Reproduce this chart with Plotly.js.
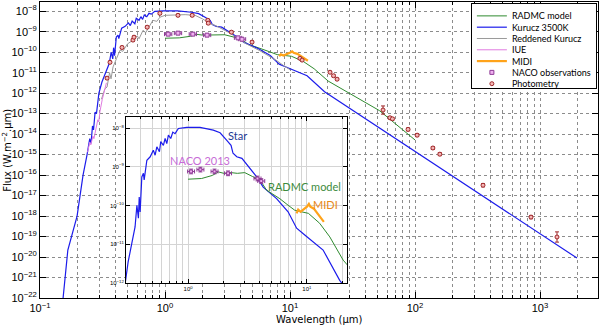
<!DOCTYPE html>
<html>
<head>
<meta charset="utf-8">
<script src="https://cdn.plot.ly/plotly-3.0.1.min.js"></script>
<style>
html, body { margin: 0; padding: 0; background: #fff; }
#chart { width: 600px; height: 326px; }
</style>
</head>
<body>
<div id="chart"></div>
<script>
// wavelengths in micron, fluxes in W.m-2.micron

// Kurucz 3500K photosphere
var kuruczWave = [0.153, 0.167, 0.198, 0.221, 0.238, 0.25, 0.256, 0.263, 0.268, 0.276, 0.283, 0.296,
  0.313, 0.336, 0.358, 0.371, 0.382, 0.388, 0.395, 0.408, 0.421, 0.427, 0.45, 0.48, 0.51, 0.528,
  0.546, 0.574, 0.589, 0.62, 0.641, 0.662, 0.683, 0.715, 0.744, 0.777, 0.829, 0.975, 1.26, 1.63,
  1.86, 2.11, 2.3, 2.39, 2.57, 2.84, 3.32, 3.78, 4.29, 5.56, 6.95, 8.2, 9.6, 13.7, 18.9, 91, 1977];
var kuruczFlux = [1e-22, 2.2e-20, 1e-18, 1e-16, 1e-15, 6e-15, 3.5e-15, 2.5e-14, 1.6e-14, 1.2e-13, 1e-13, 1e-12,
  3.5e-12, 1.05e-11, 2.8e-11, 1.02e-10, 4.7e-11, 1.66e-10, 6.8e-11, 5.5e-10, 6.8e-10, 4.6e-10, 1.48e-9, 1.82e-9, 2.7e-9, 2.0e-9,
  3.3e-9, 2.45e-9, 4.5e-9, 3.6e-9, 5.4e-9, 4.0e-9, 6.6e-9, 5.4e-9, 7.9e-9, 7.2e-9, 9.8e-9, 1.05e-8, 1.05e-8, 8.9e-9,
  7.6e-9, 4.9e-9, 3.6e-9, 2.24e-9, 1.82e-9, 1.66e-9, 9.3e-10, 5.5e-10, 3.0e-10, 1.51e-10, 6.9e-11, 2.6e-11, 1.74e-11, 7.1e-12, 1.17e-12, 2.1e-15, 8.9e-21];

// reddened Kurucz
var reddenedWave = [0.31, 0.33, 0.344, 0.36, 0.37, 0.384, 0.41, 0.437, 0.46, 0.5, 0.554, 0.6, 0.62, 0.667, 0.7,
  0.75, 0.8, 0.86, 0.91, 1.0, 1.2, 1.45, 1.74, 2.0, 2.3, 2.6, 3.31, 4.5, 5.75, 7.87, 8.9, 10];
var reddenedFlux = [5e-13, 1.6e-12, 2e-12, 1e-11, 5e-12, 1.9e-11, 5e-11, 1.26e-10, 1.1e-10, 2.5e-10, 3.9e-10, 6.3e-10, 4.5e-10, 1.17e-9, 8.9e-10,
  2e-9, 3.6e-9, 3.2e-9, 5.1e-9, 6.3e-9, 6.8e-9, 6.8e-9, 6.3e-9, 4.2e-9, 2.5e-9, 1.86e-9, 8.5e-10, 2.5e-10, 1.17e-10, 3.8e-11, 2.2e-11, 1.4e-11];

// IUE spectrum
var iueWave = [0.24, 0.25, 0.255, 0.265, 0.27, 0.28, 0.29, 0.295, 0.302, 0.315, 0.33, 0.34];
var iueFlux = [1.3e-15, 4e-15, 3e-15, 8e-15, 6e-15, 2e-14, 5e-14, 4e-14, 1.3e-13, 5e-13, 1.6e-12, 3.2e-12];

// RADMC model
var radmcWave = [1.0, 1.3, 1.6, 1.8, 2.0, 2.3, 2.6, 3.0, 3.5, 4.03, 4.58, 5.93, 6.95, 7.9, 9.0, 10.3, 12.8, 15.6, 20.2, 52, 100];
var radmcFlux = [4.8e-10, 5.0e-10, 6.0e-10, 7.4e-10, 6.8e-10, 7.1e-10, 6.8e-10, 7.1e-10, 5.6e-10, 4.6e-10, 2.5e-10, 1.5e-10, 1.02e-10, 7.6e-11, 6.9e-11, 6.3e-11, 3.5e-11, 1.55e-11, 3.9e-12, 1.4e-13, 5.2e-15];

// MIDI spectrum
var midiWave = [8.19, 8.45, 8.85, 9.43, 10.07, 10.4, 10.7, 11.45, 12.2, 13.0, 13.9];
var midiFlux = [6.3e-11, 7.9e-11, 6.9e-11, 7.9e-11, 9.5e-11, 1.1e-10, 9.3e-11, 8.3e-11, 6.5e-11, 4.9e-11, 3.8e-11];

// NACO 2013 observations
var nacoWave = [1.06, 1.27, 1.67, 2.17, 3.84, 4.13];
var nacoFlux = [7.6e-10, 8.5e-10, 7.6e-10, 6.8e-10, 5.0e-10, 4.3e-10];

// photometry (error in dex)
var photWave = [0.344, 0.363, 0.453, 0.554, 0.565, 0.72, 0.91, 1.27, 1.65, 2.2, 2.22, 3.4, 4.97,
  12.0, 12.5, 20.9, 22.3, 23.8, 55.5, 63, 66, 88, 104, 139, 158, 350, 847, 1368];
var photFlux = [5.4e-12, 3.2e-11, 1.7e-10, 3.9e-10, 5.4e-10, 1.66e-9, 7.9e-9, 6.3e-9, 6.3e-9, 3.6e-9, 2.6e-9, 9.5e-10, 3.1e-10,
  5e-11, 4.1e-11, 1.05e-11, 7.1e-12, 4.8e-12, 1.5e-13, 6.3e-14, 5.6e-14, 1.7e-14, 8.9e-15, 2.1e-15, 1.05e-15, 3.2e-17, 8.9e-19, 9.5e-20];
var photErr = [0.06, 0.06, 0.06, 0.06, 0.06, 0.06, 0.06, 0.06, 0.06, 0.06, 0.06, 0.06, 0.06,
  0.05, 0.05, 0.05, 0.05, 0.05, 0.2, 0.06, 0.06, 0.07, 0.07, 0.07, 0.07, 0.08, 0.08, 0.25];

var mainXTicks = [0.1, 1, 10, 100, 1000];
var mainXTickText = ['10<sup>−1</sup>', '10<sup>0</sup>', '10<sup>1</sup>', '10<sup>2</sup>', '10<sup>3</sup>'];
var mainXMinor = [0.2, 0.3, 0.4, 0.5, 0.6, 0.7, 0.8, 0.9, 2, 3, 4, 5, 6, 7, 8, 9, 20, 30, 40, 50, 60, 70, 80, 90,
  200, 300, 400, 500, 600, 700, 800, 900, 2000, 3000];
var mainYExp = [-22, -21, -20, -19, -18, -17, -16, -15, -14, -13, -12, -11, -10, -9, -8];
var insetXTicks = [1, 10];
var insetXTickText = ['10<sup>0</sup>', '10<sup>1</sup>'];
var insetXMinor = [0.3, 0.4, 0.5, 0.6, 0.7, 0.8, 0.9, 2, 3, 4, 5, 6, 7, 8, 9, 20];
var insetYExp = [-12, -11, -10, -9, -8];

function pw(e) { return '10<sup>' + (e < 0 ? '−' + (-e) : e) + '</sup>'; }

var photPlus = photFlux.map(function (f, i) { return f * (Math.pow(10, photErr[i]) - 1); });
var photMinus = photFlux.map(function (f, i) { return f * (1 - Math.pow(10, -photErr[i])); });
var nacoPlus = nacoFlux.map(function (f) { return f * 0.15; });
var nacoMinus = nacoFlux.map(function (f) { return f * 0.13; });
var nacoXPlus = nacoWave.map(function (w) { return w * 0.07; });
var nacoXMinus = nacoWave.map(function (w) { return w * 0.065; });

var cGreen = '#2f8a2f', cBlue = '#1c1ceb', cGrey = '#9a9a9a', cIue = '#e07be0', cMidi = '#ffa31a';
var cNaco = '#8e3a96', cPhot = '#a0282a';

var traces = [
  { x: radmcWave, y: radmcFlux, mode: 'lines', name: 'RADMC model', line: { color: cGreen, width: 1 } },
  { x: kuruczWave, y: kuruczFlux, mode: 'lines', name: 'Kurucz 3500K', line: { color: cBlue, width: 1.2 } },
  { x: reddenedWave, y: reddenedFlux, mode: 'lines', name: 'Reddened Kurucz', line: { color: cGrey, width: 1 } },
  { x: iueWave, y: iueFlux, mode: 'lines', name: 'IUE', line: { color: cIue, width: 1 } },
  { x: midiWave, y: midiFlux, mode: 'lines', name: 'MIDI', line: { color: cMidi, width: 2.2 } },
  { x: nacoWave, y: nacoFlux, mode: 'markers', name: 'NACO observations',
    marker: { symbol: 'square', size: 4, color: '#f0b0f0', line: { color: cNaco, width: 1 } },
    error_y: { type: 'data', symmetric: false, array: nacoPlus, arrayminus: nacoMinus, color: cNaco, thickness: 1, width: 2 },
    error_x: { type: 'data', symmetric: false, array: nacoXPlus, arrayminus: nacoXMinus, color: cNaco, thickness: 1, width: 2 } },
  { x: photWave, y: photFlux, mode: 'markers', name: 'Photometry',
    marker: { symbol: 'circle', size: 4, color: '#f4b6b6', line: { color: cPhot, width: 1 } },
    error_y: { type: 'data', symmetric: false, array: photPlus, arrayminus: photMinus, color: cPhot, thickness: 1, width: 2 } },
  // inset
  { x: kuruczWave, y: kuruczFlux, xaxis: 'x2', yaxis: 'y2', mode: 'lines', showlegend: false, line: { color: cBlue, width: 1.2 } },
  { x: radmcWave, y: radmcFlux, xaxis: 'x2', yaxis: 'y2', mode: 'lines', showlegend: false, line: { color: cGreen, width: 1 } },
  { x: midiWave, y: midiFlux, xaxis: 'x2', yaxis: 'y2', mode: 'lines', showlegend: false, line: { color: cMidi, width: 2.2 } },
  { x: nacoWave, y: nacoFlux, xaxis: 'x2', yaxis: 'y2', mode: 'markers', showlegend: false,
    marker: { symbol: 'square', size: 3, color: '#f0b0f0', line: { color: cNaco, width: 1 } },
    error_y: { type: 'data', symmetric: false, array: nacoPlus, arrayminus: nacoMinus, color: cNaco, thickness: 1, width: 2 },
    error_x: { type: 'data', symmetric: false, array: nacoXPlus, arrayminus: nacoXMinus, color: cNaco, thickness: 1, width: 2 } }
];

var axFont = { family: 'Liberation Sans', size: 11, color: '#000' };
var smallFont = { family: 'Liberation Sans', size: 6, color: '#000' };
var txtFont = 'Lato';

var layout = {
  width: 600, height: 326,
  margin: { l: 40, r: 2, t: 2, b: 28 },
  paper_bgcolor: '#fff', plot_bgcolor: '#fff',
  showlegend: true,
  legend: {
    x: 0.998, y: 0.997, xanchor: 'right', yanchor: 'top',
    bgcolor: '#fff', bordercolor: '#000', borderwidth: 1, itemwidth: 30,
    font: { family: txtFont, size: 9, color: '#000' }, tracegroupgap: 0
  },
  xaxis: {
    type: 'log', range: [-1, 3.464], domain: [0, 1], anchor: 'y',
    tickmode: 'array', tickvals: mainXTicks, ticktext: mainXTickText,
    ticks: 'inside', ticklen: 6, tickcolor: '#000', tickfont: axFont,
    showline: true, linecolor: '#000', linewidth: 1, mirror: 'ticks',
    showgrid: true, gridcolor: '#8c8c8c', griddash: 'dot', gridwidth: 1, zeroline: false,
    minor: { tickmode: 'array', tickvals: mainXMinor, ticks: 'inside', ticklen: 3, tickcolor: '#000',
      showgrid: true, gridcolor: '#8c8c8c', griddash: 'dot', gridwidth: 1 }
  },
  yaxis: {
    type: 'log', range: [-22, -7.55], domain: [0, 1], anchor: 'x',
    tickmode: 'array', tickvals: mainYExp.map(function (e) { return Math.pow(10, e); }),
    ticktext: mainYExp.map(pw),
    ticks: 'inside', ticklen: 6, tickcolor: '#000', tickfont: axFont,
    showline: true, linecolor: '#000', linewidth: 1, mirror: 'ticks',
    showgrid: true, gridcolor: '#8c8c8c', griddash: 'dot', gridwidth: 1, zeroline: false
  },
  xaxis2: {
    type: 'log', range: [-0.523, 1.337], domain: [0.154, 0.550], anchor: 'y2',
    tickmode: 'array', tickvals: insetXTicks, ticktext: insetXTickText,
    ticks: 'inside', ticklen: 4, tickcolor: '#000', tickfont: smallFont,
    showline: true, linecolor: '#000', linewidth: 1, mirror: 'ticks',
    showgrid: true, gridcolor: '#d4d4d4', gridwidth: 1, zeroline: false,
    minor: { tickmode: 'array', tickvals: insetXMinor, ticks: 'inside', ticklen: 2, tickcolor: '#000',
      showgrid: true, gridcolor: '#d4d4d4', gridwidth: 1 }
  },
  yaxis2: {
    type: 'log', range: [-12, -7.716], domain: [0.0507, 0.611], anchor: 'x2',
    tickmode: 'array', tickvals: insetYExp.map(function (e) { return Math.pow(10, e); }),
    ticktext: insetYExp.map(pw),
    ticks: 'inside', ticklen: 4, tickcolor: '#000', tickfont: smallFont,
    showline: true, linecolor: '#000', linewidth: 1, mirror: 'ticks',
    showgrid: true, gridcolor: '#d4d4d4', gridwidth: 1, zeroline: false
  },
  annotations: [
    { xref: 'paper', yref: 'paper', x: 0.5, y: -0.074, yanchor: 'middle', text: 'Wavelength (μm)', showarrow: false,
      font: { family: 'DejaVu Sans', size: 10, color: '#000' } },
    { xref: 'paper', yref: 'paper', x: -0.0595, y: 0.5, xanchor: 'center', textangle: -90, text: 'Flux (W.m<sup>−2</sup>.μm)', showarrow: false,
      font: { family: 'DejaVu Sans', size: 10, color: '#000' } },
    { xref: 'x2', yref: 'y2', x: 0.42, y: -8.18, text: 'Star', showarrow: false, font: { family: txtFont, size: 11, color: '#1f3a93' } },
    { xref: 'x2', yref: 'y2', x: 0.10, y: -8.83, text: 'NACO 2013', showarrow: false, font: { family: txtFont, size: 11, color: '#c76bd6' } },
    { xref: 'x2', yref: 'y2', x: 0.983, y: -9.5, text: 'RADMC model', showarrow: false, font: { family: txtFont, size: 11, color: '#3d8b3d' } },
    { xref: 'x2', yref: 'y2', x: 1.16, y: -9.96, text: 'MIDI', showarrow: false, font: { family: txtFont, size: 11, color: '#e8891a' } }
  ]
};

Plotly.newPlot('chart', traces, layout, { staticPlot: true, displayModeBar: false }).then(function (gd) {
  // tighten legend rows to the reference spacing
  var leg = gd.querySelector('g.legend');
  if (!leg) return;
  var rows = leg.querySelectorAll('g.traces');
  var step = 11.3, top = 13;
  rows.forEach(function (row, i) {
    var m = /translate\(([^,]+),/.exec(row.getAttribute('transform') || '');
    var x0 = m ? m[1] : 0;
    row.setAttribute('transform', 'translate(' + x0 + ',' + (top + i * step) + ')');
  });
  var bg = leg.querySelector('rect.bg');
  if (bg) bg.setAttribute('height', 85);
});
</script>
</body>
</html>
